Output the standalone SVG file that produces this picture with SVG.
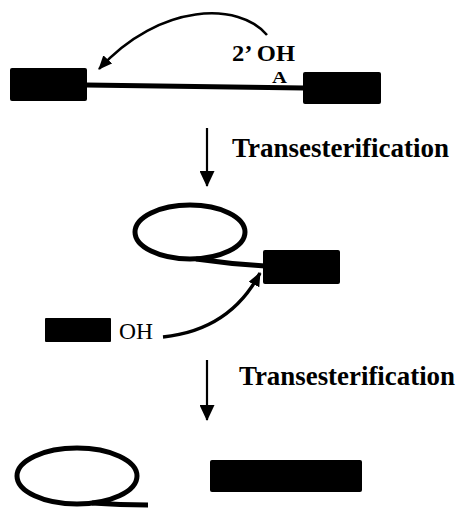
<svg xmlns="http://www.w3.org/2000/svg" width="463" height="508" viewBox="0 0 463 508">
  <defs>
    <style>
      .box { fill: #000; }
      .strand { fill: none; stroke: #000; stroke-width: 5; }
      .loop { fill: none; stroke: #000; stroke-width: 5; }
      .step { stroke: #000; stroke-width: 2.2; fill: none; }
      .attack { fill: none; stroke: #000; }
      .lbl { font-family: "Liberation Serif", "Times New Roman", serif; fill: #000; }
      .b { font-weight: bold; }
    </style>
    <marker id="head" viewBox="0 0 14 12" refX="13" refY="6" markerWidth="14" markerHeight="12" markerUnits="userSpaceOnUse" orient="auto">
      <path d="M0,0 L14,6 L0,12 z" fill="#000"/>
    </marker>
    <marker id="headDown" viewBox="0 0 16 15" refX="15" refY="7.5" markerWidth="16" markerHeight="15" markerUnits="userSpaceOnUse" orient="auto">
      <path d="M0,0 L16,7.5 L0,15 z" fill="#000"/>
    </marker>
  </defs>

  <!-- precursor: exon - intron - exon -->
  <g id="precursor">
    <rect class="box" x="10" y="68" width="77" height="33" rx="2"/>
    <path class="strand" d="M86 85 L304 88"/>
    <rect class="box" x="303" y="72" width="78" height="32" rx="2"/>
    <text class="lbl b" x="232" y="61" font-size="24" textLength="63" lengthAdjust="spacingAndGlyphs">2’ OH</text>
    <text class="lbl b" x="272" y="83" font-size="17" textLength="15" lengthAdjust="spacingAndGlyphs">A</text>
  </g>

  <!-- lariat intermediate with 3' exon -->
  <g id="lariat-intermediate">
    <ellipse class="loop" cx="190" cy="232" rx="55" ry="27"/>
    <path class="strand" d="M196 259 Q230 264 265 266"/>
    <rect class="box" x="263" y="250" width="77" height="34" rx="2"/>
  </g>

  <!-- freed 5' exon with 3' OH -->
  <g id="exon-oh">
    <rect class="box" x="45" y="318" width="66" height="24" rx="1"/>
    <text class="lbl" x="119" y="339" font-size="23" textLength="34" lengthAdjust="spacingAndGlyphs">OH</text>
  </g>

  <!-- products: excised lariat and ligated exons -->
  <g id="lariat-product">
    <ellipse class="loop" cx="77" cy="476" rx="60" ry="28"/>
    <path class="strand" d="M92 503 Q120 505 148 505"/>
  </g>
  <g id="ligated-exons">
    <rect class="box" x="210" y="460" width="152" height="32" rx="2"/>
  </g>

  <!-- step labels -->
  <g id="labels">
    <text class="lbl b" x="232" y="157" font-size="27" textLength="217" lengthAdjust="spacingAndGlyphs">Transesterification</text>
    <text class="lbl b" x="239" y="385" font-size="27" textLength="216" lengthAdjust="spacingAndGlyphs">Transesterification</text>
  </g>

  <!-- connectors -->
  <g id="connectors">
    <path class="attack" stroke-width="2.5" d="M267 35 C240 2 160 2 99 69" marker-end="url(#head)"/>
    <path class="attack" stroke-width="3.5" d="M163 337 Q230 330 260 273" marker-end="url(#head)"/>
    <line class="step" x1="207" y1="128" x2="207" y2="186" marker-end="url(#headDown)"/>
    <line class="step" x1="207" y1="360" x2="207" y2="420" marker-end="url(#headDown)"/>
  </g>
</svg>
